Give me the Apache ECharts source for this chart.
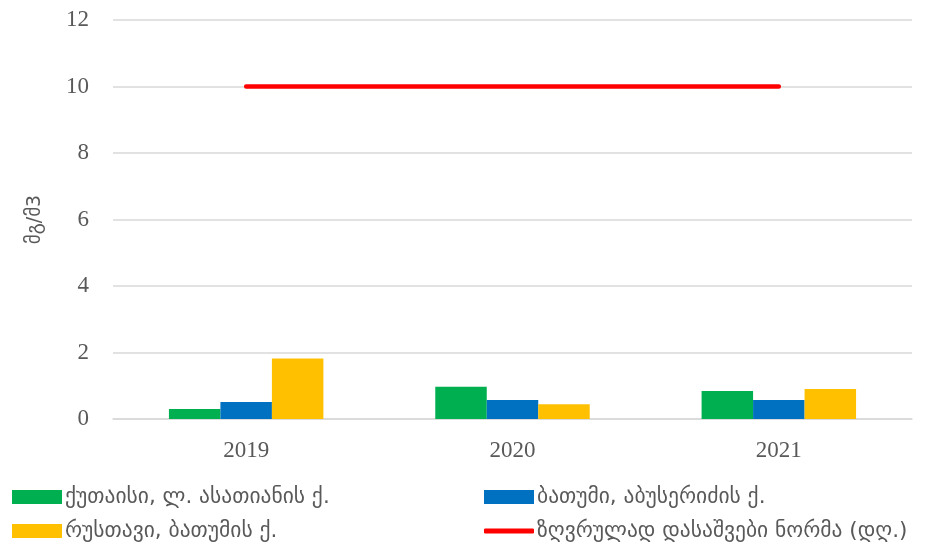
<!DOCTYPE html>
<html><head><meta charset="utf-8">
<script src="https://cdn.jsdelivr.net/npm/echarts@6/dist/echarts.min.js"></script>
<style>html,body{margin:0;padding:0;background:#fff}#c{width:934px;height:550px}</style>
</head><body><div id="c"></div>
<script>
const categories = ['2019', '2020', '2021'];
const seriesNames = ['ქუთაისი, ლ. ასათიანის ქ.', 'ბათუმი, აბუსერიძის ქ.', 'რუსთავი, ბათუმის ქ.', 'ზღვრულად დასაშვები ნორმა (დღ.)'];
const kutaisi = [0.30, 0.97, 0.84];
const batumi = [0.51, 0.57, 0.57];
const rustavi = [1.82, 0.44, 0.90];
const norm = [10, 10, 10];
const yTicks = [0, 2, 4, 6, 8, 10, 12];
const yName = 'მგ/მ3';

const geo = '"DejaVu Sans", "Noto Sans", sans-serif';
const serif = '"Liberation Serif", "DejaVu Serif", serif';
const chart = echarts.init(document.getElementById('c'));
function lg(name, left, top, icon, h) {
  return {data: [name], left: left, top: top, itemWidth: 50, itemHeight: h, icon: icon,
    textStyle: {fontFamily: geo, fontSize: 21.5, lineHeight: 24, color: '#595959', padding: [0,0,0,-2]}, itemGap: 0, padding: 0};
}
chart.setOption({
  animation: false,
  grid: {left: 113, right: 22, top: 20, bottom: 131},
  legend: [
    lg(seriesNames[0], 12, 485, 'rect', 14),
    lg(seriesNames[1], 484, 485, 'rect', 14),
    lg(seriesNames[2], 12, 519, 'rect', 14),
    lg(seriesNames[3], 484, 519, 'roundRect', 5)
  ],
  xAxis: {type: 'category', data: categories,
    axisLine: {lineStyle: {color: '#d9d9d9', width: 1.5}}, axisTick: {show: false},
    axisLabel: {fontFamily: serif, fontSize: 23, color: '#595959', margin: 20}},
  yAxis: {type: 'value', min: yTicks[0], max: yTicks[yTicks.length-1], interval: 2,
    name: yName, nameLocation: 'middle', nameGap: 68, nameRotate: 90,
    nameTextStyle: {fontFamily: geo, fontSize: 19, color: '#595959'},
    axisLine: {show: false}, axisTick: {show: false},
    splitLine: {lineStyle: {color: '#d9d9d9', width: 1.5}},
    axisLabel: {fontFamily: serif, fontSize: 23, color: '#595959', margin: 24}},
  series: [
    {name: seriesNames[0], type: 'bar', data: kutaisi, itemStyle: {color: '#00b050'}, barGap: '0%', barCategoryGap: '42%'},
    {name: seriesNames[1], type: 'bar', data: batumi, itemStyle: {color: '#0070c0'}},
    {name: seriesNames[2], type: 'bar', data: rustavi, itemStyle: {color: '#ffc000'}},
    {name: seriesNames[3], type: 'line', data: norm, symbol: 'none', lineStyle: {color: '#ff0000', width: 4.5, cap: 'round'}, itemStyle: {color: '#ff0000'}}
  ]
});
</script></body></html>
